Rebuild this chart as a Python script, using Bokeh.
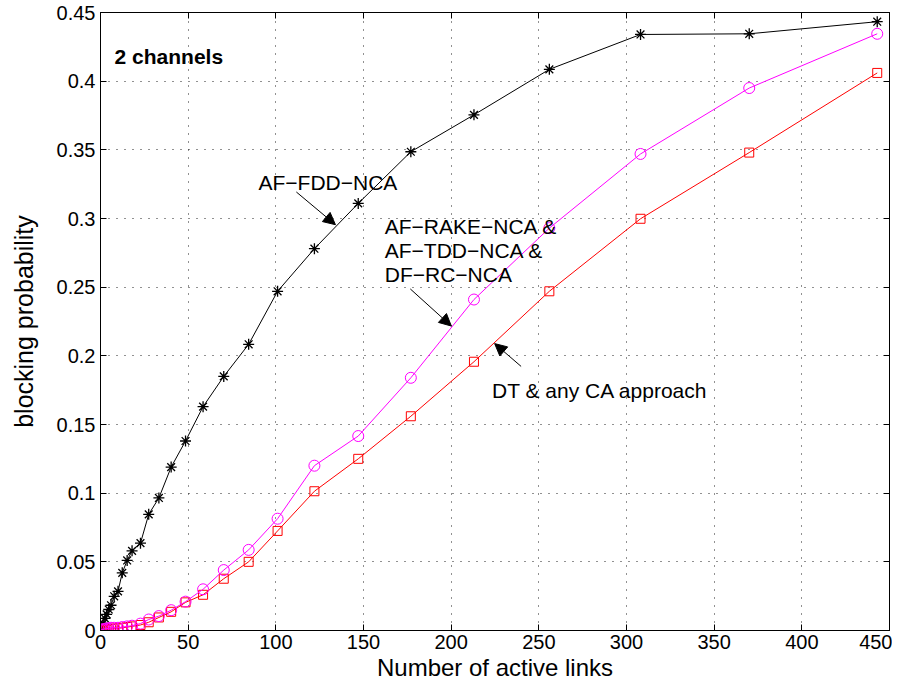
from bokeh.plotting import figure
from bokeh.models import LinearAxis, FixedTicker, Arrow, NormalHead, Label, Range1d
from bokeh.embed import file_html
from bokeh.resources import INLINE

# ---- data ----
links = [0.5, 1.5, 2.5, 3.5, 4.7, 6, 7.8, 10, 12.4, 15.2, 18, 22.8, 27.5, 33.3,
         40.3, 48.5, 58.5, 70.3, 84.5, 101, 122, 147, 177, 213, 256, 308, 370, 443]
af_fdd_nca = [0.0027, 0.0052, 0.0088, 0.0117, 0.0153, 0.0184, 0.0249, 0.0285, 0.042,
              0.051, 0.058, 0.0636, 0.0846, 0.0965, 0.119, 0.138, 0.163, 0.185, 0.2084,
              0.247, 0.278, 0.311, 0.3486, 0.3755, 0.4086, 0.434, 0.4345, 0.4433]
af_rake_nca = [0.0005, 0.001, 0.001, 0.0015, 0.0015, 0.002, 0.002, 0.002, 0.0025,
               0.003, 0.0035, 0.005, 0.008, 0.0105, 0.0148, 0.021, 0.030, 0.044, 0.0587,
               0.0814, 0.120, 0.1416, 0.184, 0.241, 0.293, 0.347, 0.395, 0.4345]
dt_any_ca = [0.0, 0.0, 0.0005, 0.0005, 0.001, 0.001, 0.0015, 0.0015, 0.002, 0.0025,
             0.003, 0.004, 0.006, 0.0095, 0.0136, 0.0205, 0.026, 0.0377, 0.050, 0.0725,
             0.1014, 0.125, 0.156, 0.1957, 0.247, 0.2998, 0.348, 0.406]

x_ticks = [0, 50, 100, 150, 200, 250, 300, 350, 400, 450]
y_ticks = [0, 0.05, 0.1, 0.15, 0.2, 0.25, 0.3, 0.35, 0.4, 0.45]
y_tick_labels = ["0", "0.05", "0.1", "0.15", "0.2", "0.25", "0.3", "0.35", "0.4", "0.45"]

x_label = "Number of active links"
y_label = "blocking probability"
title_note = "2 channels"
lbl_fdd = "AF\u2212FDD\u2212NCA"
lbl_rake = ["AF\u2212RAKE\u2212NCA &", "AF\u2212TDD\u2212NCA &", "DF\u2212RC\u2212NCA"]
lbl_dt = "DT & any CA approach"

FONT = "Liberation Sans"

p = figure(width=892, height=683, output_backend="svg", toolbar_location=None,
           x_range=Range1d(0, 450), y_range=Range1d(0, 0.45),
           min_border_left=100, min_border_right=3, min_border_top=12,
           min_border_bottom=52)
p.background_fill_color = "white"
p.outline_line_color = "black"
p.outline_line_width = 1

# axes
p.xaxis.ticker = FixedTicker(ticks=x_ticks)
p.yaxis.ticker = FixedTicker(ticks=y_ticks)
p.yaxis.major_label_overrides = {t: s for t, s in zip(y_ticks, y_tick_labels)}
for ax in (p.xaxis[0], p.yaxis[0]):
    ax.major_tick_in = 6
    ax.major_tick_out = 0
    ax.minor_tick_line_color = None
    ax.axis_line_color = "black"
    ax.major_tick_line_color = "black"
    ax.major_label_text_font = FONT
    ax.major_label_text_font_size = "20px"
    ax.major_label_text_color = "black"
    ax.axis_label_text_font = FONT
    ax.axis_label_text_font_style = "normal"
    ax.axis_label_text_color = "black"
p.xaxis.axis_label = x_label
p.yaxis.axis_label = y_label
p.xaxis.axis_label_text_font_size = "24px"
p.yaxis.axis_label_text_font_size = "25px"
p.xaxis.major_label_standoff = 4
p.xaxis.axis_label_standoff = 2
p.yaxis.major_label_standoff = 5
p.yaxis.axis_label_standoff = 16

for loc, tk in (("right", y_ticks), ("above", x_ticks)):
    a = LinearAxis(ticker=FixedTicker(ticks=tk))
    a.major_tick_in = 6
    a.major_tick_out = 0
    a.minor_tick_line_color = None
    a.major_label_overrides = {t: "" for t in tk}
    a.major_label_text_font_size = "1px"
    a.major_label_standoff = 0
    a.axis_line_color = "black"
    p.add_layout(a, loc)

# grid
p.xgrid.ticker = FixedTicker(ticks=x_ticks)
p.ygrid.ticker = FixedTicker(ticks=y_ticks)
for g in (p.xgrid[0], p.ygrid[0]):
    g.grid_line_color = "#222222"
    g.grid_line_dash = "1 7"
    g.grid_line_width = 1

# series
p.line(links, af_fdd_nca, line_color="black", line_width=1)
p.scatter(links, af_fdd_nca, marker="asterisk", size=11, line_color="black", line_width=1.3)
p.line(links, dt_any_ca, line_color="#ff0000", line_width=1)
p.scatter(links, dt_any_ca, marker="square", size=9, fill_color=None,
          line_color="#ff0000", line_width=1)
p.line(links, af_rake_nca, line_color="#ff00ff", line_width=1)
p.scatter(links, af_rake_nca, marker="circle", size=11, fill_color=None,
          line_color="#ff00ff", line_width=1)

# annotations
def add_label(x, y, txt, style="normal"):
    p.add_layout(Label(x=x, y=y, text=txt, text_font=FONT, text_font_size="21px",
                       text_font_style=style, text_color="black",
                       text_baseline="alphabetic", text_align="left"))

add_label(8.0, 0.418, title_note, "bold")
add_label(90.1, 0.3265, lbl_fdd)
for i, t in enumerate(lbl_rake):
    add_label(162.1, 0.2942 - i * 0.0174, t)
add_label(223.3, 0.175, lbl_dt)

def add_arrow(x0, y0, x1, y1):
    p.add_layout(Arrow(end=NormalHead(size=12, fill_color="black", line_color="black",
                                      line_width=1),
                       x_start=x0, y_start=y0, x_end=x1, y_end=y1,
                       line_color="black", line_width=1))

add_arrow(111.7, 0.3193, 134.0, 0.2955)
add_arrow(176.7, 0.2487, 200.1, 0.2217)
add_arrow(239.9, 0.1923, 224.8, 0.2089)

open("out.html", "w").write(file_html(p, INLINE))
